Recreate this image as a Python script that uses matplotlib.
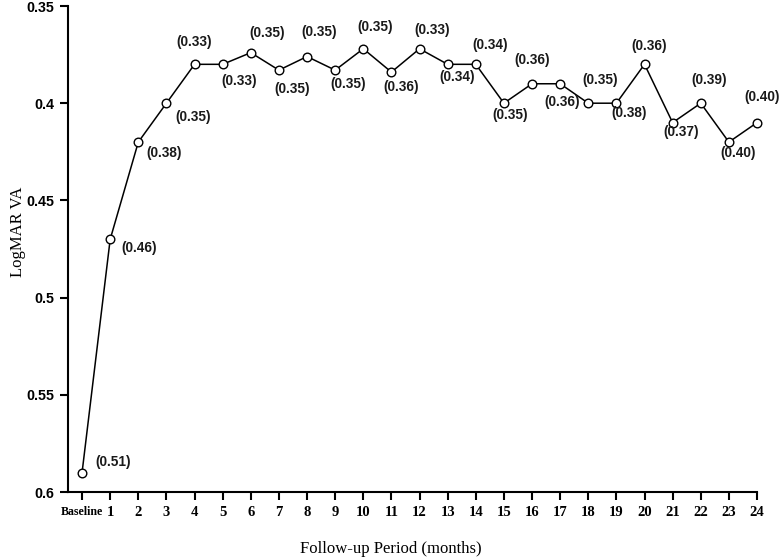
import matplotlib
matplotlib.use("Agg")
import matplotlib.pyplot as plt

# follow-up visits and mean LogMAR VA as drawn
months = ["Baseline"] + [str(m) for m in range(1, 25)]
va_plot = [0.59, 0.47, 0.42, 0.40, 0.38, 0.38, 0.374, 0.383, 0.376, 0.383,
           0.372, 0.384, 0.372, 0.38, 0.38, 0.40, 0.39, 0.39, 0.40, 0.40,
           0.38, 0.41, 0.40, 0.42, 0.41]
va_text = ["(0.51)", "(0.46)", "(0.38)", "(0.35)", "(0.33)", "(0.33)",
           "(0.35)", "(0.35)", "(0.35)", "(0.35)", "(0.35)", "(0.36)",
           "(0.33)", "(0.34)", "(0.34)", "(0.35)", "(0.36)", "(0.36)",
           "(0.35)", "(0.38)", "(0.36)", "(0.37)", "(0.39)", "(0.40)",
           "(0.40)"]
y_ticks = [0.35, 0.4, 0.45, 0.5, 0.55, 0.6]
y_ticklabels = ["0.35", "0.4", "0.45", "0.5", "0.55", "0.6"]

# where each value label sits relative to its point (pixels)
label_offsets = [(31, 11), (29, -9), (26, -11), (27, -14), (0, 22), (16, -17),
                 (16, 20), (13, -19), (12, 25), (13, -14), (12, 22), (10, -15),
                 (13, 19), (9, -13), (14, 19), (6, -12), (0, 24), (1.5, -18),
                 (12, 23), (13, -10), (5, 18), (8, -9), (8, 23), (9, -11),
                 (5, 26)]

fig = plt.figure(figsize=(7.8, 5.57), dpi=100)
ax = fig.add_axes([68 / 780, 1 - 492 / 557, 689 / 780, 486 / 557])

x = list(range(len(months)))
ax.plot(x, va_plot, color="black", linewidth=1.1, marker="o", markersize=6.2,
        markerfacecolor="white", markeredgecolor="black", markeredgewidth=1.0,
        clip_on=False, zorder=3)

for xi, yi, txt, off in zip(x, va_plot, va_text, label_offsets):
    ax.annotate(txt, (xi, yi), xytext=off, textcoords="offset pixels",
                ha="center", va="center", fontsize=9.8, fontweight="bold",
                family="Liberation Sans", color="#1a1a1a")

ax.set_xlim(-0.5, 23.97)
ax.set_ylim(0.6, 0.35)

ax.set_yticks(y_ticks)
ax.set_yticklabels(y_ticklabels, family="Liberation Sans", fontweight="bold",
                   fontsize=10.3)
ax.set_xticks(x)
ax.set_xticklabels(months, family="Liberation Serif", fontweight="bold",
                   fontsize=10.5)
# "Baseline" is squeezed in the original
ax.get_xticklabels()[0].set_fontsize(8.6)

ax.spines["top"].set_visible(False)
ax.spines["right"].set_visible(False)
ax.spines["left"].set_linewidth(1.5)
ax.spines["bottom"].set_linewidth(1.5)
ax.tick_params(axis="both", direction="out", length=6, width=1.5, pad=4)

fig.text(18 / 780, 1 - 232 / 557, "LogMAR VA", rotation=90, ha="center",
         va="center", family="Liberation Serif", fontsize=12)
fig.text(391 / 780, 1 - 549 / 557, "Follow-up Period (months)", ha="center",
         va="center", family="Liberation Serif", fontsize=12)

fig.savefig("out.png", dpi=100)
